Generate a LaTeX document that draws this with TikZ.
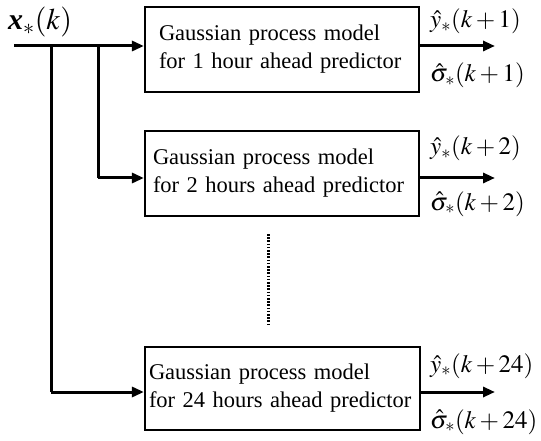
\documentclass[tikz,border=0pt]{standalone}
\usepackage{mathptmx}
\usepackage{fontspec}
\setmainfont{Liberation Serif}
\usetikzlibrary{arrows.meta}
\begin{document}
\begin{tikzpicture}[x=1pt,y=-1pt,
  every node/.style={font=\fontsize{22.5}{28}\selectfont},
  gpbox/.style={draw,line width=2.2pt,align=left,minimum height=85pt,inner ysep=0pt},
  flow/.style={line width=3pt,-{Triangle[length=12pt,width=10pt]}},
  wire/.style={line width=3pt},
  lbl/.style={anchor=base west,inner sep=0pt,font=\fontsize{25}{28}\selectfont}]
\useasboundingbox (0,0) rectangle (541,441);
% boxes
\node[gpbox,inner xsep=14pt,text width=246pt] (b1) at (282,49.5)
  {\mbox{Gaussian process model}\\\mbox{for 1 hour ahead predictor}};
\node[gpbox,inner xsep=8pt,text width=258pt] (b2) at (282,173.5)
  {\mbox{Gaussian process model}\\\mbox{for 2 hours ahead predictor}};
\node[gpbox,inner xsep=4pt,text width=267pt,minimum height=83pt] (b3) at (282.5,388.5)
  {\mbox{Gaussian process model}\\\mbox{for 24 hours ahead predictor}};
% input
\coordinate (in) at (14,46);
\coordinate (j1) at (51,46);
\coordinate (j2) at (98,46);
\coordinate (t2) at (98,178);
\coordinate (t3) at (51,392);
\node[lbl,font=\fontsize{30}{32}\selectfont] (xin) at (8,30) {$\textbf{\textit{x}}_*(k)$};
\draw[flow] (in) -- (in -| b1.west);
\draw[wire,line join=round] (j2) -- (t2);
\draw[flow] (t2) -- (t2 -| b2.west);
\draw[wire] (j1) -- (t3);
\draw[flow] (t3) -- (t3 -| b3.west);
% outputs
\coordinate (o1) at (495,46);
\coordinate (o2) at (495,178);
\coordinate (o3) at (495,392);
\draw[flow] (o1 -| b1.east) -- (o1);
\draw[flow] (o2 -| b2.east) -- (o2);
\draw[flow] (o3 -| b3.east) -- (o3);
\node[lbl] (y1) at (430,28) {$\hat{y}_*(k+1)$};
\node[lbl] (s1) at (430,82) {$\hat{\sigma}_*(k+1)$};
\node[lbl] (y2) at (430,155) {$\hat{y}_*(k+2)$};
\node[lbl] (s2) at (430,210) {$\hat{\sigma}_*(k+2)$};
\node[lbl] (y3) at (430,372) {$\hat{y}_*(k+24)$};
\node[lbl] (s3) at (430,428) {$\hat{\sigma}_*(k+24)$};
% dots
\coordinate (d1) at (268,234);
\coordinate (d2) at (268,325);
\draw[line width=3pt,dash pattern=on 1.6pt off 1.6pt] (d1) -- (d2);
\end{tikzpicture}
\end{document}
